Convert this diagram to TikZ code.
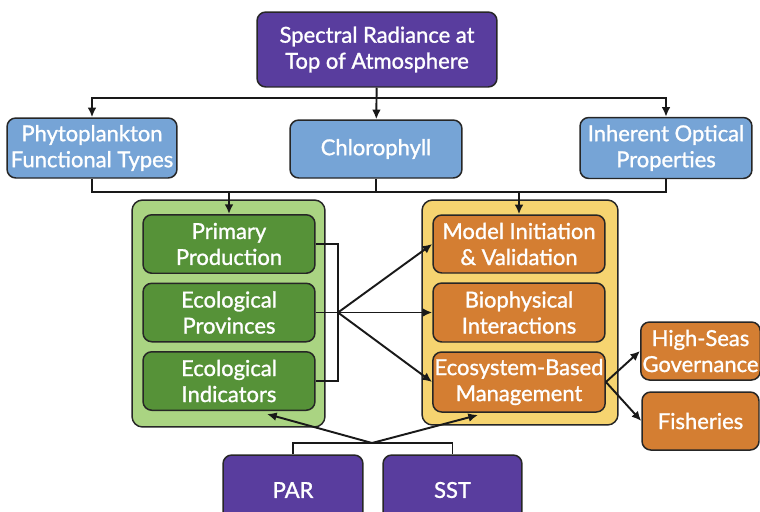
\documentclass[tikz,border=0pt]{standalone}
\usepackage{fontspec}
\setmainfont{Lato}[FakeBold=1.2]
\usetikzlibrary{arrows.meta}
\definecolor{toaviolet}{RGB}{89,61,158}
\definecolor{prodblue}{RGB}{118,164,214}
\definecolor{leafpale}{RGB}{170,212,130}
\definecolor{leafdark}{RGB}{86,146,56}
\definecolor{sandpale}{RGB}{246,212,112}
\definecolor{rustbox}{RGB}{212,126,50}
\begin{document}
\begin{tikzpicture}[x=0.02cm,y=-0.02cm,
  card/.style={draw=black!85,line width=0.85pt,rounded corners=5pt,align=center,text=white,
    inner sep=1pt,font=\fontsize{12.5}{14.8}\selectfont},
  violetcard/.style={card,fill=toaviolet},
  bluecard/.style={card,fill=prodblue},
  greencard/.style={card,fill=leafdark,minimum width=3.44cm,minimum height=1.17cm},
  rustcard/.style={card,fill=rustbox},
  holder/.style={draw=black!85,line width=0.85pt,rounded corners=6pt},
  link/.style={line width=1.1pt,black!90},
  arr/.style={link,-{Latex[length=5.5pt,width=5pt]}}]
\clip (0,0) rectangle (760,511);
% satellite signal and first products
\node[violetcard,minimum width=4.8cm,minimum height=1.5cm] (toa) at (377,49.5) {Spectral Radiance at\\Top of Atmosphere};
\node[bluecard,minimum width=3.4cm,minimum height=1.2cm] (pft) at (92,148) {Phytoplankton\\Functional Types};
\node[bluecard,minimum width=3.44cm,minimum height=1.16cm] (chl) at (376,149) {Chlorophyll};
\node[bluecard,minimum width=3.44cm,minimum height=1.22cm] (iop) at (666,148) {Inherent Optical\\Properties};
% the two groups
\node[holder,fill=leafpale,minimum width=3.86cm,minimum height=4.54cm] (ecogrp) at (228.5,313.5) {};
\node[holder,fill=sandpale,minimum width=3.92cm,minimum height=4.5cm] (usegrp) at (520,312.5) {};
\node[greencard] (prim) at (229,244) {Primary\\Production};
\node[greencard] (prov) at (229,312.5) {Ecological\\Provinces};
\node[greencard] (ind) at (229,381) {Ecological\\Indicators};
\node[rustcard,minimum width=3.44cm,minimum height=1.16cm] (model) at (519,244) {Model Initiation\\\& Validation};
\node[rustcard,minimum width=3.44cm,minimum height=1.18cm] (bio) at (519,312.5) {Biophysical\\Interactions};
\node[rustcard,minimum width=3.44cm,minimum height=1.2cm] (eco) at (519,382) {Ecosystem-Based\\Management};
\node[rustcard,minimum width=2.34cm,minimum height=1.16cm] (hs) at (700.5,351) {High-Seas\\Governance};
\node[rustcard,minimum width=2.34cm,minimum height=1.16cm] (fish) at (700.5,421) {Fisheries};
% physical inputs (cut by the lower edge)
\node[violetcard,minimum width=2.8cm,minimum height=1.4cm] (par) at (293,490) {PAR};
\node[violetcard,minimum width=2.78cm,minimum height=1.4cm] (sst) at (452.5,490) {SST};
% top tree
\coordinate (busA) at (376,98);
\draw[arr] (toa) -- (chl);
\draw[arr] (busA) -| (pft);
\draw[arr] (busA) -| (iop);
% products into the groups
\coordinate (busB) at (376,192);
\draw[link] (pft) |- (busB) -| (iop);
\draw[link] (chl) -- (busB);
\draw[arr] (busB -| prim) -- (prim);
\draw[arr] (busB -| model) -- (model);
% bracket on the green side and its fan
\coordinate (hub) at (338,312.5);
\draw[link] (prim.east) -| (hub) |- (ind.east);
\draw[link] (prov.east) -- (hub);
\draw[arr] (hub) -- (model.west);
\draw[arr] (hub) -- (bio.west);
\draw[arr] (hub) -- (eco.west);
% management outcomes
\draw[arr] (eco.east) -- (hs.west);
\draw[arr] (eco.east) -- (fish.west);
% PAR and SST
\coordinate (apex) at (372,443);
\coordinate (indIn) at (267,414);
\coordinate (ecoIn) at (478,415);
\draw[link] (par) |- (apex) -| (sst);
\draw[arr] (apex) -- (indIn);
\draw[arr] (apex) -- (ecoIn);
\end{tikzpicture}
\end{document}
